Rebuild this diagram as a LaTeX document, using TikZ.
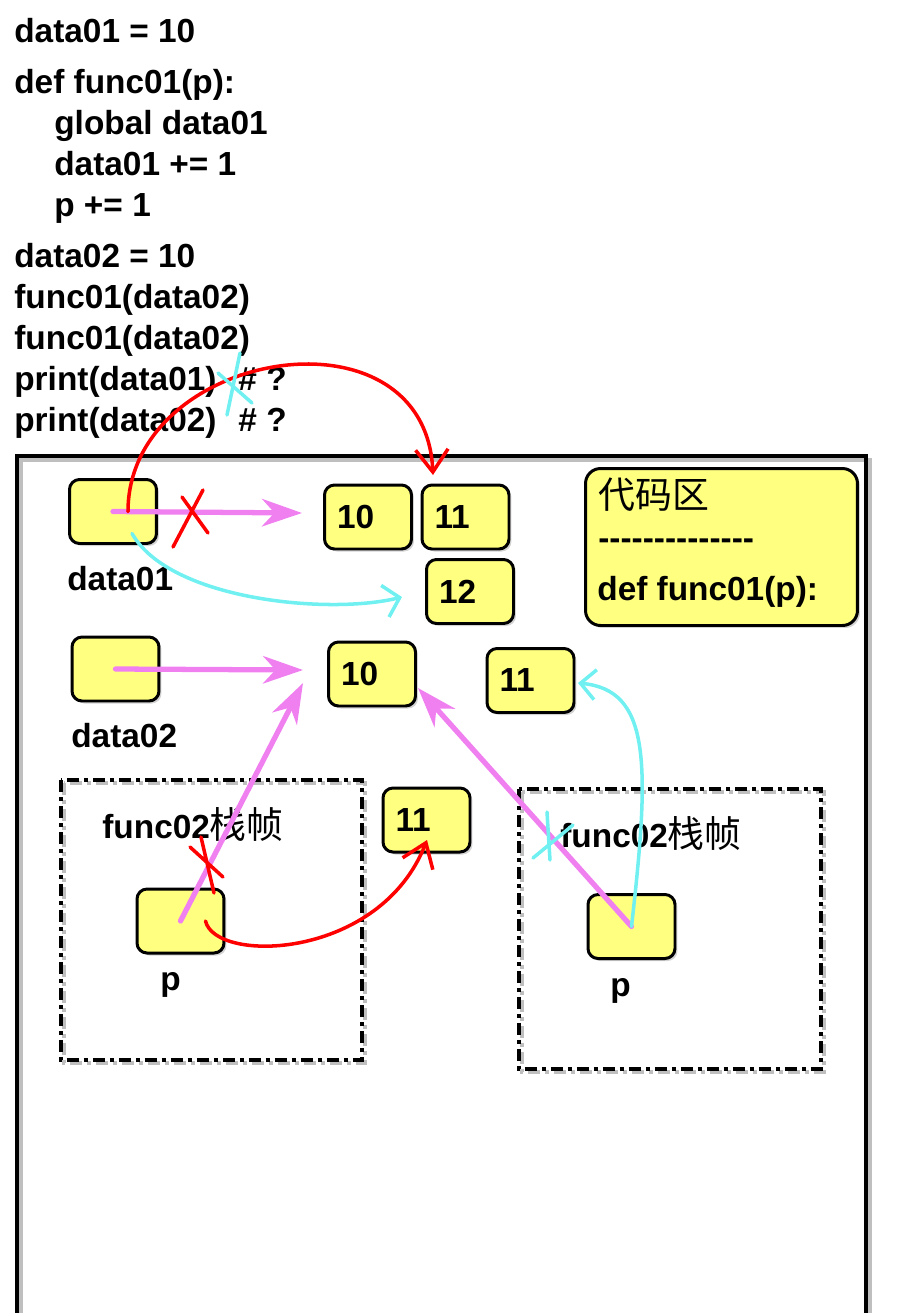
\documentclass[tikz,border=0pt]{standalone}
\usepackage{fontspec}
\setmainfont{Liberation Sans}
\newfontfamily\cjk{Noto Sans CJK SC}
\usetikzlibrary{arrows.meta,shadows}

\definecolor{cellyellow}{HTML}{FFFF80}
\definecolor{inkpink}{HTML}{F080F0}
\definecolor{inkcyan}{HTML}{70F0F0}
\definecolor{inkred}{HTML}{FF0000}

\newcommand{\hanzi}[1]{{\cjk\mdseries\fontsize{21}{25}\selectfont #1}}

\begin{document}
\begin{tikzpicture}[x=0.02cm,y=-0.02cm]
  \tikzset{code/.style = {anchor=base west,inner sep=0pt,font=\fontsize{19}{23}\selectfont\bfseries}}
  \tikzset{cell/.style = {shape=rectangle,draw,line width=1.7pt,rounded corners=0.2cm,fill=cellyellow,
      minimum width=1.74cm,minimum height=1.28cm,inner xsep=0.25cm,text width=1.24cm,align=left,
      font=\fontsize{19}{23}\selectfont\bfseries,
      drop shadow={shadow xshift=0.05cm,shadow yshift=-0.05cm,opacity=0.35}}}
  \tikzset{stackframe/.style = {line width=2pt,dash pattern=on 0.24cm off 0.1cm on 0.08cm off 0.1cm}}
  \tikzset{pinkarrow/.style = {draw=inkpink,line width=3pt,line cap=round,-{Stealth[length=0.8cm,width=0.55cm,inset=0.25cm]}}}
  \tikzset{redpen/.style = {draw=inkred,line width=2pt,line cap=round,line join=round}}
  \tikzset{cyanpen/.style = {draw=inkcyan,line width=2pt,line cap=round,line join=round}}

  \useasboundingbox (0,0) rectangle (913,1313);

  % program text
  \foreach \x/\y/\line in {14/42/{data01 = 10}, 14/93/{def func01(p):}, 54/134/{global data01},
      54/175/{data01 += 1}, 54/216/{p += 1}, 14/267/{data02 = 10}, 14/308/{func01(data02)},
      14/349/{func01(data02)}, 14/390/{print(data01)\hspace{0.44cm}\# ?}, 14/431/{print(data02)\hspace{0.44cm}\# ?}}
    \node[code] (code\y) at (\x,\y) {\line};

  % memory
  \draw[line width=2.2pt,black!25] (21,1313) -- (21,460) -- (870,460) -- (870,1313);
  \draw[line width=2.2pt] (17,1313) -- (17,456) -- (866,456) -- (866,1313);

  \draw[stackframe,black!25] (64,783) rectangle (365,1063);
  \draw[stackframe] (61,780) rectangle (362,1060);
  \draw[stackframe,black!25] (522,792) rectangle (824,1072);
  \draw[stackframe] (519,789) rectangle (821,1069);

  \node[cell] (data01) at (113,511.5) {};
  \node[cell] (tenA) at (368,517) {10};
  \node[cell] (elevenA) at (465.5,517) {11};
  \node[cell] (twelve) at (470,591.5) {12};
  \node[cell] (data02) at (115.5,669) {};
  \node[cell] (tenB) at (372,674) {10};
  \node[cell] (elevenR) at (530.5,680.5) {11};
  \node[cell] (elevenM) at (426.5,820) {11};
  \node[cell] (pL) at (180.5,921) {};
  \node[cell] (pR) at (631.5,926.5) {};
  \node[cell,minimum width=5.44cm,minimum height=3.14cm,text width=4.94cm,rounded corners=0.3cm] (codearea) at (721.5,547) {};

  \node[code] (codetitle) at (598,508) {\hanzi{代码区}};
  \node[code] (coderule) at (598,549) {\foreach \i in {1,...,14}{\mbox{-}}};
  \node[code] (codedef) at (597,600) {def func01(p):};

  \node[code] (name01) at (67,590) {data01};
  \node[code] (name02) at (71,747) {data02};
  \node[code] (nameL) at (160,990) {p};
  \node[code] (nameR) at (610,996) {p};
  \node[code] (frameL) at (102,838) {func02\hanzi{栈帧}};
  \node[code] (frameR) at (560,847) {func02\hanzi{栈帧}};

  % references
  \coordinate (tipA) at (302,513);
  \coordinate (tipB) at (303,670);
  \coordinate (tipC) at (303,683);
  \coordinate (tipD) at (418,688);
  \coordinate (tipE) at (433,475);
  \coordinate (tipF) at (427,840);
  \coordinate (tipG) at (402,597);
  \coordinate (tipH) at (578,683);

  \draw[pinkarrow] (data01.center) -- (tipA);
  \draw[pinkarrow] (data02.center) -- (tipB);
  \draw[pinkarrow] (pL.center) -- (tipC);
  \draw[pinkarrow] (pR.center) -- (tipD);

  \draw[cyanpen,-{Straight Barb[length=0.3cm,width=0.65cm]}] ([xshift=0.38cm,yshift=-0.44cm]data01.center) .. controls +(38,67) and +(-72,18) .. (tipG);
  \draw[cyanpen,-{Straight Barb[length=0.3cm,width=0.6cm]}] (pR.center) .. controls +(19,-166) and +(72,7) .. (tipH);
  \draw[redpen,-{Straight Barb[length=0.45cm,width=0.65cm]}] ([xshift=0.3cm]data01.center) .. controls +(0,-162) and +(-8,-175) .. (tipE);
  \draw[redpen,-{Straight Barb[length=0.45cm,width=0.65cm]}] ([xshift=0.5cm]pL.center) .. controls +(10,43) and +(-47,120) .. (tipF);

  % crossed out
  \draw[redpen] (173,547) -- (203,490) (182,497) -- (208,533);
  \draw[redpen] (190,847) -- (223,877) (201,837) -- (214,893);
  \draw[cyanpen] (240,353) -- (227,415) (218,373) -- (252,403);
  \draw[cyanpen] (547,812) -- (550,860) (533,858) -- (573,825);
\end{tikzpicture}
\end{document}
